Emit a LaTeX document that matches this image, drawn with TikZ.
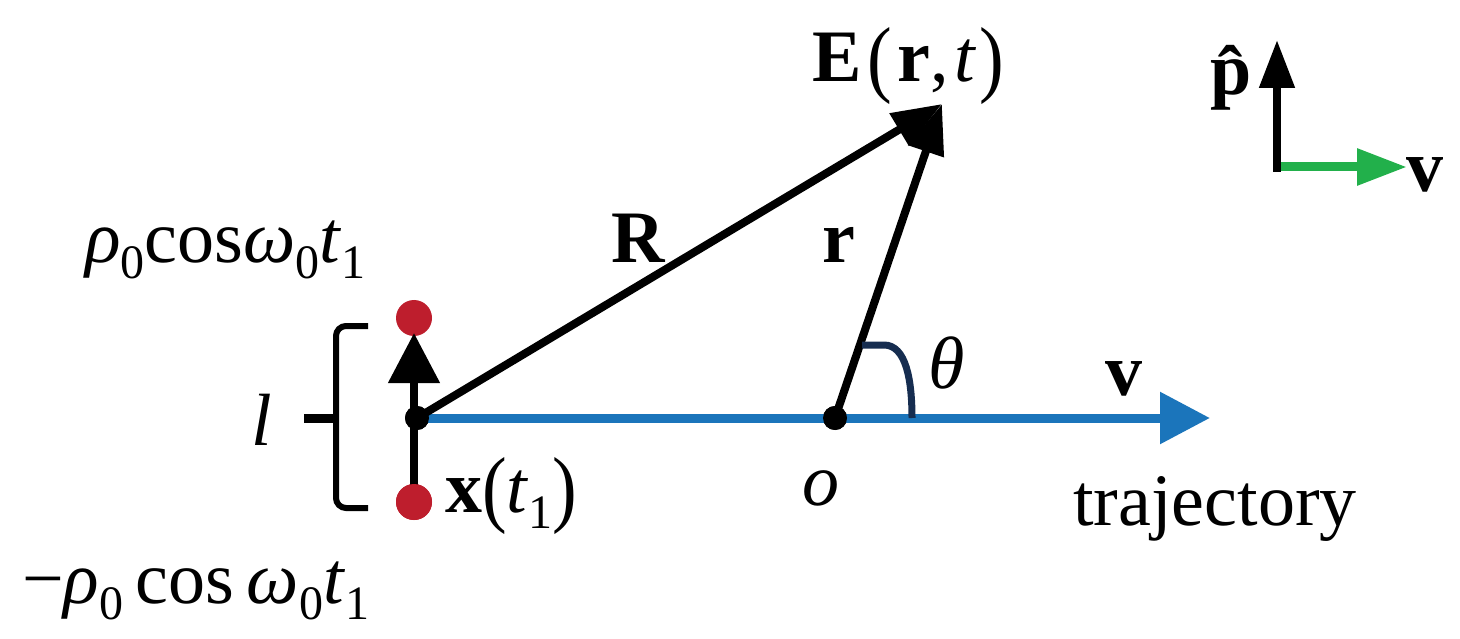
\documentclass[tikz,border=0pt]{standalone}
\usepackage{fontspec}
\usepackage{graphicx}
\setmainfont{Liberation Serif}
\usetikzlibrary{arrows.meta}
\definecolor{trajblue}{RGB}{27,117,187}
\definecolor{dipred}{RGB}{190,30,45}
\definecolor{arcnavy}{RGB}{22,45,80}
\definecolor{pgreen}{RGB}{34,176,75}
\newcommand{\lowidx}[1]{\raisebox{-0.22em}{\fontsize{48}{48}\selectfont #1}}
\newcommand{\tallpar}[1]{\raisebox{-0.06em}{\scalebox{1}[1.15]{#1}}}
\tikzset{
  lbl/.style={inner sep=0pt, font=\fontsize{74}{80}\selectfont},
  vecline/.style={line width=8pt, black},
  bigtip/.style={-{Triangle[length=50pt,width=50pt]}},
  midtip/.style={-{Triangle[length=50pt,width=36pt]}},
  reddot/.style={circle, fill=dipred, minimum size=36pt, inner sep=0pt},
  blackdot/.style={circle, fill=black, minimum size=24pt, inner sep=0pt},
}
\begin{document}
\begin{tikzpicture}[x=1pt,y=-1pt]
\useasboundingbox (0,0) rectangle (1460,639);
% coordinates
\coordinate (trajend) at (1210,418);
\coordinate (Etip) at (942,104);
\coordinate (dipend) at (414,333);
\coordinate (arcA) at (862,345);
\coordinate (arcB) at (912,418);
\coordinate (pbase) at (1277,172);
\coordinate (ptip) at (1277,40);
\coordinate (vbase) at (1281,167);
\coordinate (vtip) at (1407,167);
% dots
\node[blackdot] (xt) at (417,418) {};
\node[blackdot] (o) at (835,418) {};
\node[reddot] (qp) at (414,318) {};
\node[reddot] (qm) at (414,502) {};
% trajectory
\draw[line width=9pt, trajblue, -{Triangle[length=50pt,width=50pt]}] (xt.center) -- (trajend);
% dipole arrow
\draw[vecline, bigtip] (qm.center) -- (dipend);
\node[reddot] at (qm) {};
\node[blackdot] at (xt) {};
\node[blackdot] at (o) {};
% R and r
\draw[vecline, midtip] (xt.center) -- (Etip);
\draw[vecline, midtip] (o.center) -- (Etip);
% angle arc
\draw[arcnavy, line width=7pt] (arcA) -- (884,345) .. controls (906,345) and (912,380) .. (arcB);
% brace
\draw[line width=6pt, rounded corners=10pt] (368,326) -- (336,326) -- (336,508) -- (368,508);
\draw[line width=9pt] (304,418) -- (336,418);
% top right axes
\draw[vecline, -{Triangle[length=48pt,width=34pt]}] (pbase) -- (ptip);
\draw[pgreen, line width=9pt, -{Triangle[length=50pt,width=35pt]}] (vbase) -- (vtip);
% labels
\node[lbl, anchor=base west] (Elab) at (812,82) {\textbf{E}\hspace{6pt}\tallpar{(}\hspace{5pt}\textbf{r},\hspace{6pt}\textit{t}\hspace{3pt}\tallpar{)}};
\node[lbl, anchor=base] (plab) at (1237,95) {\textbf{\^{p}}};
\node[lbl, anchor=base] (vtop) at (1425,192) {\textbf{v}};
\node[lbl, anchor=base] (Rlab) at (639,262) {\textbf{R}};
\node[lbl, anchor=base] (rlab) at (839,262) {\textbf{r}};
\node[lbl, anchor=base] (thlab) at (947,388) {\textit{θ}};
\node[lbl, anchor=base] (vlab) at (1124,395) {\textbf{v}};
\node[lbl, anchor=base] (olab) at (821,505) {\textit{o}};
\node[lbl, anchor=base west] (trlab) at (1073,525) {trajectory};
\node[lbl, anchor=base west] (xlab) at (445,512) {\textbf{x}\tallpar{(}\textit{t}\lowidx{1}\tallpar{)}};
\node[lbl, anchor=base] (llab) at (262,445) {\textit{l}};
\node[lbl, anchor=base west] (toplab) at (85,262) {\textit{ρ}\lowidx{0}cos\textit{ω}\lowidx{0}\textit{t}\lowidx{1}};
\node[lbl, anchor=base west] (botlab) at (22,603) {−\textit{ρ}\lowidx{0}\,cos\,\textit{ω}\lowidx{0}\textit{t}\lowidx{1}};
\end{tikzpicture}
\end{document}
